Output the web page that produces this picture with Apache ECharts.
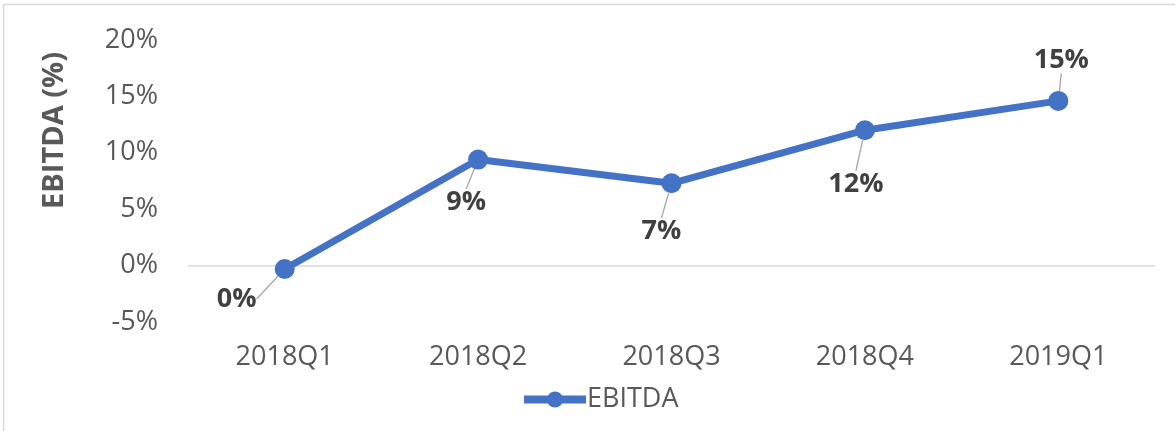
<!DOCTYPE html>
<html>
<head>
<meta charset="utf-8">
<script src="https://cdn.jsdelivr.net/npm/echarts@6/dist/echarts.min.js"></script>
<style>
  html, body { margin: 0; padding: 0; background: #fff; }
  #chart { width: 1175px; height: 431px; }
</style>
</head>
<body>
<div id="chart"></div>
<script>
// 数据
const quarters = ['2018Q1', '2018Q2', '2018Q3', '2018Q4', '2019Q1'];
const ebitda = [-0.3, 9.4, 7.3, 12.0, 14.6];
const yMin = -5;
const yMax = 20;
const yStep = 5;

// label offsets from the point (dx, dy)
const labelOffsets = [[-48, 30], [-12, 43], [-10, 48], [-9, 54], [3, -41]];

const font = '"Open Sans", "Liberation Sans", sans-serif';

let chartDom = document.getElementById('chart');
let myChart = echarts.init(chartDom);
let option;

option = {
    animation: false,
    textStyle: { fontFamily: font },
    grid: {
        left: 188,
        right: 20,
        top: 40,
        bottom: 109
    },
    graphic: [
        {
            type: 'rect',
            shape: { x: 3.5, y: 4.5, width: 1200, height: 500 },
            style: { fill: 'none', stroke: '#d9d9d9', lineWidth: 1.5 },
            silent: true
        },
        {
            type: 'text',
            left: 40,
            top: 52,
            rotation: Math.PI / 2,
            style: {
                text: 'EBITDA (%)',
                fontFamily: font,
                fontSize: 29,
                fontWeight: 'bold',
                fill: '#595959'
            }
        }
    ],
    legend: {
        data: ['EBITDA'],
        left: 515,
        top: 381,
        itemWidth: 62,
        itemHeight: 20,
        itemGap: 5,
        lineStyle: { width: 8 },
        textStyle: { fontSize: 27, color: '#595959', fontFamily: font, padding: [0, 0, 0, -4] }
    },
    xAxis: {
        type: 'category',
        data: quarters,
        boundaryGap: true,
        axisLine: { show: false },
        axisTick: { show: false },
        axisLabel: { fontSize: 27, color: '#595959', margin: 22 }
    },
    yAxis: {
        type: 'value',
        min: yMin,
        max: yMax,
        interval: yStep,
        axisLine: { show: false },
        axisTick: { show: false },
        splitLine: { show: false },
        axisLabel: {
            fontSize: 27,
            color: '#595959',
            margin: 30,
            formatter: function (v) { return v + '%'; }
        }
    },
    series: [
        {
            name: 'EBITDA',
            type: 'line',
            data: ebitda,
            symbol: 'circle',
            symbolSize: 20,
            z: 5,
            lineStyle: { color: '#4472C4', width: 7 },
            itemStyle: { color: '#4472C4' },
            label: {
                show: true,
                position: 'inside',
                fontSize: 27,
                fontWeight: 'bold',
                color: '#404040',
                formatter: function (p) { return Math.round(p.value) + '%'; }
            },
            labelLine: {
                show: true,
                length2: 0,
                lineStyle: { color: '#a6a6a6', width: 1.3 }
            },
            labelLayout: function (params) {
                const off = labelOffsets[params.dataIndex];
                const cx = params.rect.x + params.rect.width / 2;
                const cy = params.rect.y + params.rect.height / 2;
                return {
                    x: cx + off[0],
                    y: cy + off[1],
                    align: 'center',
                    verticalAlign: 'middle'
                };
            },
            markLine: {
                silent: true,
                symbol: 'none',
                label: { show: false },
                lineStyle: { color: '#d9d9d9', width: 1.5, type: 'solid' },
                data: [{ yAxis: 0 }],
                z: 1
            }
        }
    ]
};

option && myChart.setOption(option);
</script>
</body>
</html>
